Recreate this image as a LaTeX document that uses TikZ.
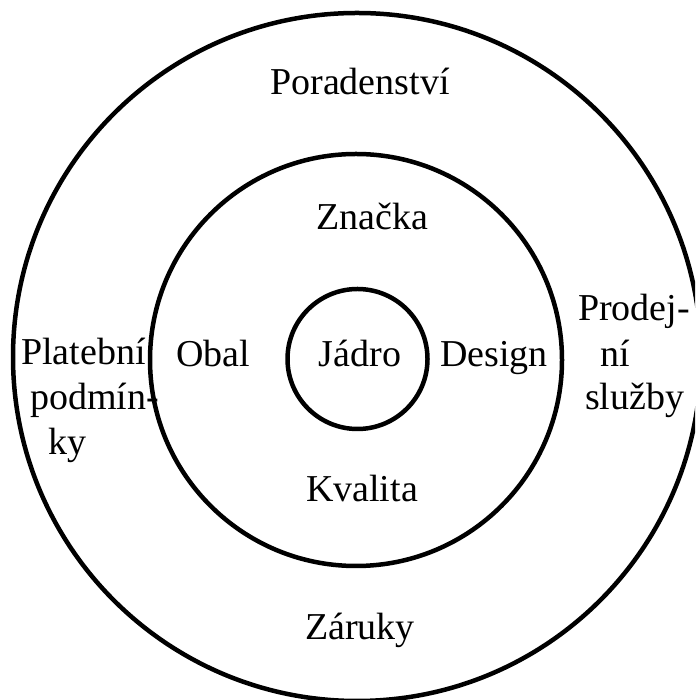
\documentclass[tikz,border=0pt]{standalone}
\usepackage{fontspec}
\setmainfont{Liberation Serif}
\begin{document}
\begin{tikzpicture}[x=1pt,y=1pt,
  ring/.style={draw=black, line width=4.5pt, circle, inner sep=0pt, fill=none},
  lbl/.style={font=\fontsize{38}{45}\selectfont, inner sep=0pt}]
\useasboundingbox (0,0) rectangle (695,700);
\clip (0,0) rectangle (695,700);
\node[ring, minimum size=688pt] (outer) at (357,343) {};
\node[ring, minimum size=412pt] (middle) at (356,340) {};
\node[ring, minimum size=140pt] (inner) at (357.5,341) {};
\node[lbl, anchor=base] (poradenstvi) at (360,605) {Poradenství};
\node[lbl, anchor=base] (znacka) at (372,470) {Značka};
\node[lbl, anchor=base] (obal) at (213,333) {Obal};
\node[lbl, anchor=base] (jadro) at (360,333) {Jádro};
\node[lbl, anchor=base] (design) at (494,333) {Design};
\node[lbl, anchor=base] (kvalita) at (362,198) {Kvalita};
\node[lbl, anchor=base] (zaruky) at (360,60) {Záruky};
\node[lbl, anchor=base west] (plat1) at (21,335) {Platební};
\node[lbl, anchor=base west] (plat2) at (30,290) {podmín-};
\node[lbl, anchor=base west] (plat3) at (48,245) {ky};
\node[lbl, anchor=base west] (prod1) at (578,379) {Prodej-};
\node[lbl, anchor=base west] (prod2) at (600,333) {ní};
\node[lbl, anchor=base west] (prod3) at (585,290) {služby};
\end{tikzpicture}
\end{document}
